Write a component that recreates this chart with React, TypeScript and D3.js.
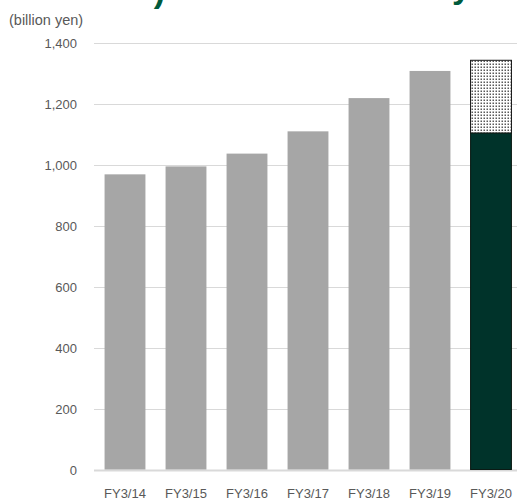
import React from "react";
import * as d3 from "d3";

const categories = ["FY3/14", "FY3/15", "FY3/16", "FY3/17", "FY3/18", "FY3/19", "FY3/20"];
const actualValues = [971, 997, 1039, 1112, 1221, 1310, 1106];
const targetValues = [0, 0, 0, 0, 0, 0, 1345];
const yTicks = [0, 200, 400, 600, 800, 1000, 1200, 1400];

const W = 517;
const H = 499;

export default function App() {
  const x = d3
    .scaleBand<string>()
    .domain(categories)
    .range([94.5, 94.5 + 61 * 7])
    .paddingInner(0.33)
    .paddingOuter(0.165);
  const y = d3.scaleLinear().domain([0, 1400]).range([470.5, 43.5]);
  const fmt = d3.format(",");
  const last = categories.length - 1;

  return (
    <svg
      width={W}
      height={H}
      style={{ position: "absolute", left: 0, top: 0, fontFamily: "Liberation Sans, Arial, sans-serif" }}
    >
      <defs>
        <pattern id="dots" width="3" height="3" patternUnits="userSpaceOnUse">
          <rect width="3" height="3" fill="#ffffff" />
          <rect x="0.5" y="0.5" width="1.5" height="1.5" fill="#5a5a5a" />
        </pattern>
      </defs>
      <rect width={W} height={H} fill="#ffffff" />
      {/* clipped title fragments */}
      <text x={165} y={2} textAnchor="end" fontSize={34} fontWeight="bold" fill="#005a3c">
        )
      </text>
      <text x={452} y={-2} fontSize={34} fontWeight="bold" fill="#005a3c">
        y
      </text>
      <text x={9} y={25} fontSize={14.5} fill="#595959">
        (billion yen)
      </text>
      {yTicks.map((t) => (
        <g key={t}>
          <line
            x1={94}
            x2={W}
            y1={y(t)}
            y2={y(t)}
            stroke="#d9d9d9"
            strokeWidth={t === 0 ? 2 : 1}
          />
          <text x={77} y={y(t) + 4.5} textAnchor="end" fontSize={13} fill="#595959">
            {fmt(t)}
          </text>
        </g>
      ))}
      {categories.map((c, i) => {
        const bx = x(c)!;
        const bw = x.bandwidth();
        if (i === last) {
          return (
            <g key={c}>
              <rect
                x={bx}
                y={y(targetValues[i])}
                width={bw}
                height={y(actualValues[i]) - y(targetValues[i])}
                fill="url(#dots)"
                stroke="#111"
                strokeWidth={1}
              />
              <rect
                x={bx}
                y={y(actualValues[i])}
                width={bw}
                height={y(0) - y(actualValues[i]) - 1}
                fill="#00332a"
                stroke="#0a1a14"
                strokeWidth={1}
              />
            </g>
          );
        }
        return (
          <rect
            key={c}
            x={bx}
            y={y(actualValues[i])}
            width={bw}
            height={y(0) - y(actualValues[i]) - 1}
            fill="#a6a6a6"
          />
        );
      })}
      {categories.map((c) => (
        <text
          key={c}
          x={x(c)! + x.bandwidth() / 2}
          y={498}
          textAnchor="middle"
          fontSize={13}
          fill="#595959"
        >
          {c}
        </text>
      ))}
    </svg>
  );
}
